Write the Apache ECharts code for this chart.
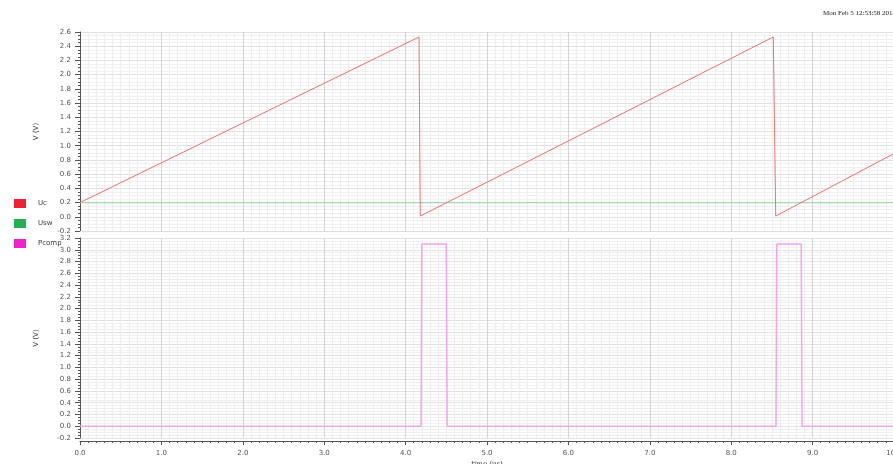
<!DOCTYPE html>
<html>
<head>
<meta charset="utf-8">
<script src="https://cdn.jsdelivr.net/npm/echarts@6/dist/echarts.min.js"></script>
<style>html,body{margin:0;padding:0;background:#fff}#c{width:893px;height:464px}</style>
</head>
<body>
<div id="c"></div>
<script>
// time in us
const ucTime   = [0.0, 4.165, 4.18, 8.517, 8.547, 10.0];
const ucValue  = [0.20, 2.53, 0.01, 2.53, 0.01, 0.89];
const uswTime  = [0.0, 10.0];
const uswValue = [0.20, 0.20];
const pcompTime  = [0.0, 4.19, 4.20, 4.50, 4.51, 8.55, 8.56, 8.86, 8.87, 10.0];
const pcompValue = [0.0, 0.0, 3.10, 3.10, 0.0, 0.0, 3.10, 3.10, 0.0, 0.0];
const seriesNames = ['Uc', 'Usw', 'Pcomp'];
const xTickLabels = ['0.0','1.0','2.0','3.0','4.0','5.0','6.0','7.0','8.0','9.0','10.0'];
const timestamp = 'Mon Feb 5 12:53:58 2018';

const pairs = (t, v) => t.map((x, i) => [x, v[i]]);
const chart = echarts.init(document.getElementById('c'), null, {renderer: 'canvas'});
const lbl = {color: '#555', fontSize: 7, fontFamily: 'DejaVu Sans'};
function xAxis(gi, show) {
  return {
    type: 'value', gridIndex: gi, min: 0, max: 10, interval: 1,
    axisLine: {show: true, onZero: false, lineStyle: {color: show ? '#555' : '#ddd'}},
    axisTick: {show: show, length: 4, inside: false, lineStyle: {color: '#555'}},
    minorTick: {show: show, splitNumber: 10, length: 2, lineStyle: {color: '#555'}},
    axisLabel: {show: show, ...lbl, margin: 9, formatter: v => xTickLabels[Math.round(v)]},
    splitLine: {show: true, lineStyle: {color: '#d4d4d4', width: 1}},
    minorSplitLine: {show: true, lineStyle: {color: '#eeeeee', width: 1}},
    name: show ? 'time (us)' : '', nameLocation: 'middle', nameGap: 20,
    nameTextStyle: {...lbl, fontFamily: 'DejaVu Serif', color: '#333'},
    offset: show ? 3 : 0
  };
}
function yAxis(gi, max) {
  return {
    type: 'value', gridIndex: gi, min: -0.2, max: max, interval: 0.2,
    axisLine: {show: true, onZero: false, lineStyle: {color: '#555'}},
    axisTick: {show: true, length: 5, lineStyle: {color: '#555'}},
    minorTick: {show: true, splitNumber: 4, length: 2, lineStyle: {color: '#555'}},
    axisLabel: {...lbl, margin: 9, formatter: v => v.toFixed(1)},
    splitLine: {show: true, lineStyle: {color: '#e2e2e2'}},
    minorSplitLine: {show: true, lineStyle: {color: '#f0f0f0'}},
    name: 'V (V)', nameLocation: 'middle', nameGap: 40, nameRotate: 90,
    nameTextStyle: {...lbl, color: '#333'}
  };
}
chart.setOption({
  animation: false,
  backgroundColor: '#fff',
  grid: [
    {left: 80, right: -1, top: 32, height: 199, outerBoundsMode: 'none', containLabel: false},
    {left: 80, right: -1, top: 238, height: 200, outerBoundsMode: 'none', containLabel: false}
  ],
  xAxis: [xAxis(0, false), xAxis(1, true)],
  yAxis: [yAxis(0, 2.6), yAxis(1, 3.2)],
  legend: {
    orient: 'vertical', left: 9, top: 194, icon: 'rect',
    itemWidth: 12, itemHeight: 9, itemGap: 11,
    textStyle: {color: '#333', fontSize: 7, fontFamily: 'DejaVu Sans', padding: [0, 0, 0, 7]},
    data: [
      {name: seriesNames[0], itemStyle: {color: '#ee2233'}},
      {name: seriesNames[1], itemStyle: {color: '#22b055'}},
      {name: seriesNames[2], itemStyle: {color: '#ee22cc'}}
    ]
  },
  graphic: [{
    type: 'text', left: 823, top: 10,
    style: {text: timestamp, fill: '#222', font: '7px "Liberation Serif"'}
  }],
  series: [
    {name: seriesNames[0], type: 'line', xAxisIndex: 0, yAxisIndex: 0, showSymbol: false,
     data: pairs(ucTime, ucValue), itemStyle: {color: '#ee2233'},
     lineStyle: {color: '#f07070', width: 1}, z: 3},
    {name: seriesNames[1], type: 'line', xAxisIndex: 0, yAxisIndex: 0, showSymbol: false,
     data: pairs(uswTime, uswValue), itemStyle: {color: '#22b055'},
     lineStyle: {color: '#9ed9b4', width: 1.2}, z: 2},
    {name: seriesNames[2], type: 'line', xAxisIndex: 1, yAxisIndex: 1, showSymbol: false,
     data: pairs(pcompTime, pcompValue), itemStyle: {color: '#ee22cc'},
     lineStyle: {color: '#f5a3ee', width: 1.5}, z: 3}
  ]
});
</script>
</body>
</html>
